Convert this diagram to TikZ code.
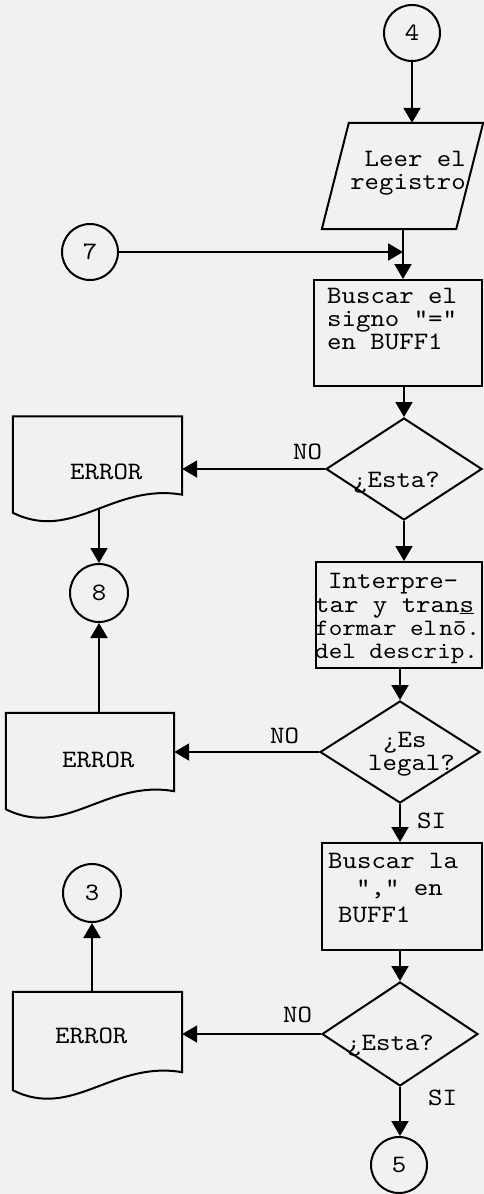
\documentclass[tikz,border=0pt]{standalone}
\usepackage{fontspec}
\newfontfamily\tw{lmmono10-regular.otf}[FakeStretch=1.1]
\usetikzlibrary{shapes.geometric,arrows.meta,calc}
\definecolor{paper}{RGB}{241,241,239}
\newcommand\docpath[1]{\draw[line,fill=paper] (#1.north west) -- (#1.north east) -- (#1.south east) .. controls ($(#1.south west)+(100,-12)$) and ($(#1.south west)+(60,48)$) .. ($(#1.south west)+(0,18)$) -- cycle;}
\begin{document}
\begin{tikzpicture}[x=1pt,y=-1pt,
  line/.style={line width=2pt},
  arr/.style={line width=2pt,-{Triangle[length=15pt,width=17pt]}},
  txt/.style={font={\tw\fontsize{25}{24}\selectfont},inner sep=0pt},
  tight/.style={font={\tw\fontsize{23.5}{23}\selectfont},inner sep=0pt},
  conn/.style={circle,draw,line width=2pt,minimum size=56pt,inner sep=0pt,font={\tw\fontsize{25}{24}\selectfont}},
  proc/.style={rectangle,draw,line width=2pt,inner sep=0pt},
  dec/.style={diamond,draw,line width=2pt,inner sep=0pt},
  ghost/.style={rectangle,draw=none,inner sep=0pt}
]
\fill[paper] (0,0) rectangle (484,1194);
\useasboundingbox (0,0) rectangle (484,1194);

% shapes
\node[conn] (c4) at (412,33) {4};
\node[ghost,minimum width=134pt,minimum height=106pt] (par) at (402.5,176) {};
\coordinate (j) at (403,252);
\node[conn] (c7) at (90,252) {7};
\node[proc,minimum width=168pt,minimum height=106pt] (b1) at (398,333) {};
\node[dec,minimum width=156pt,minimum height=102pt] (d1) at (404,469) {};
\node[ghost,minimum width=169pt,minimum height=78pt] (doc1) at (97.5,455.5) {};
\node[conn,minimum size=58pt] (c8) at (99,593) {8};
\node[proc,minimum width=166pt,minimum height=106pt] (b2) at (399,615) {};
\node[dec,minimum width=160pt,minimum height=102pt] (d2) at (400,752) {};
\node[ghost,minimum width=168pt,minimum height=78pt] (doc2) at (90,752) {};
\node[proc,minimum width=160pt,minimum height=107pt] (b3) at (402,896.5) {};
\node[dec,minimum width=156pt,minimum height=104pt] (d3) at (400,1034) {};
\node[ghost,minimum width=169pt,minimum height=80pt] (doc3) at (97.5,1032) {};
\node[conn,minimum size=58pt] (c3) at (92,893) {3};
\node[conn] (c5) at (399,1165) {5};

% parallelogram
\draw[line] ($(par.north west)+(13.5,0)$) -- ($(par.north east)+(13.5,0)$) -- ($(par.south east)+(-13.5,0)$) -- ($(par.south west)+(-13.5,0)$) -- cycle;

% connectors
\draw[arr] (c4) -- (c4 |- par.north);
\draw[arr] (j |- par.south) -- (j |- b1.north);
\draw[arr] (c7) -- (j);
\draw[arr] (d1 |- b1.south) -- (d1.north);
\draw[arr] (d1.west) -- (d1.west -| doc1.east);
\draw[arr] (c8 |- doc1.center) -- (c8.north);
\draw[arr] (d1.south) -- (d1.south |- b2.north);
\draw[arr] (d2 |- b2.south) -- (d2.north);
\draw[arr] (d2.west) -- (d2.west -| doc2.east);
\draw[arr] (c8 |- doc2.north) -- (c8.south);
\draw[arr] (d2.south) -- (d2.south |- b3.north);
\draw[arr] (d3 |- b3.south) -- (d3.north);
\draw[arr] (d3.west) -- (d3.west -| doc3.east);
\draw[arr] (c3 |- doc3.north) -- (c3.south);
\draw[arr] (d3.south) -- (d3.south |- c5.north);

% documents
\docpath{doc1}
\docpath{doc2}
\docpath{doc3}

% texts
\node[txt,anchor=base east] (p1) at (466,166) {Leer el};
\node[txt,anchor=base east] (p2) at (466,189) {registro};

\node[txt,anchor=base west] (t1a) at (327,303) {Buscar el};
\node[txt,anchor=base west] (t1b) at (327,326) {signo "="};
\node[txt,anchor=base west] (t1c) at (327,349) {en BUFF1};

\node[txt,anchor=base west] (t2a) at (328,588) {Interpre-};
\node[txt,anchor=base west] (t2b) at (315,612) {tar y tran\underline{s}};
\node[tight,anchor=base west] (t2c) at (315,635) {formar el\kern2pt nō.};
\node[tight,anchor=base west] (t2d) at (315,658) {del descrip.};

\node[txt,anchor=base west] (t3a) at (328,868) {Buscar la};
\node[txt,anchor=base west] (t3b) at (356,895) {"," en};
\node[txt,anchor=base west] (t3c) at (338,922) {BUFF1};

\node[txt,anchor=base west] (q1) at (353,487) {¿Esta?};
\node[txt,anchor=base west] (q2a) at (383,747) {¿Es};
\node[txt,anchor=base west] (q2b) at (368,770) {legal?};
\node[txt,anchor=base west] (q3) at (347,1050) {¿Esta?};

\node[txt,anchor=base west] (e1) at (70,479) {ERROR};
\node[txt,anchor=base west] (e2) at (62,767) {ERROR};
\node[txt,anchor=base west] (e3) at (55,1043) {ERROR};

\node[txt,anchor=base west] (n1) at (293,459) {NO};
\node[txt,anchor=base west] (n2) at (270,743) {NO};
\node[txt,anchor=base west] (s2) at (417,828) {SI};
\node[txt,anchor=base west] (n3) at (283,1022) {NO};
\node[txt,anchor=base west] (s3) at (428,1105) {SI};
\end{tikzpicture}
\end{document}
